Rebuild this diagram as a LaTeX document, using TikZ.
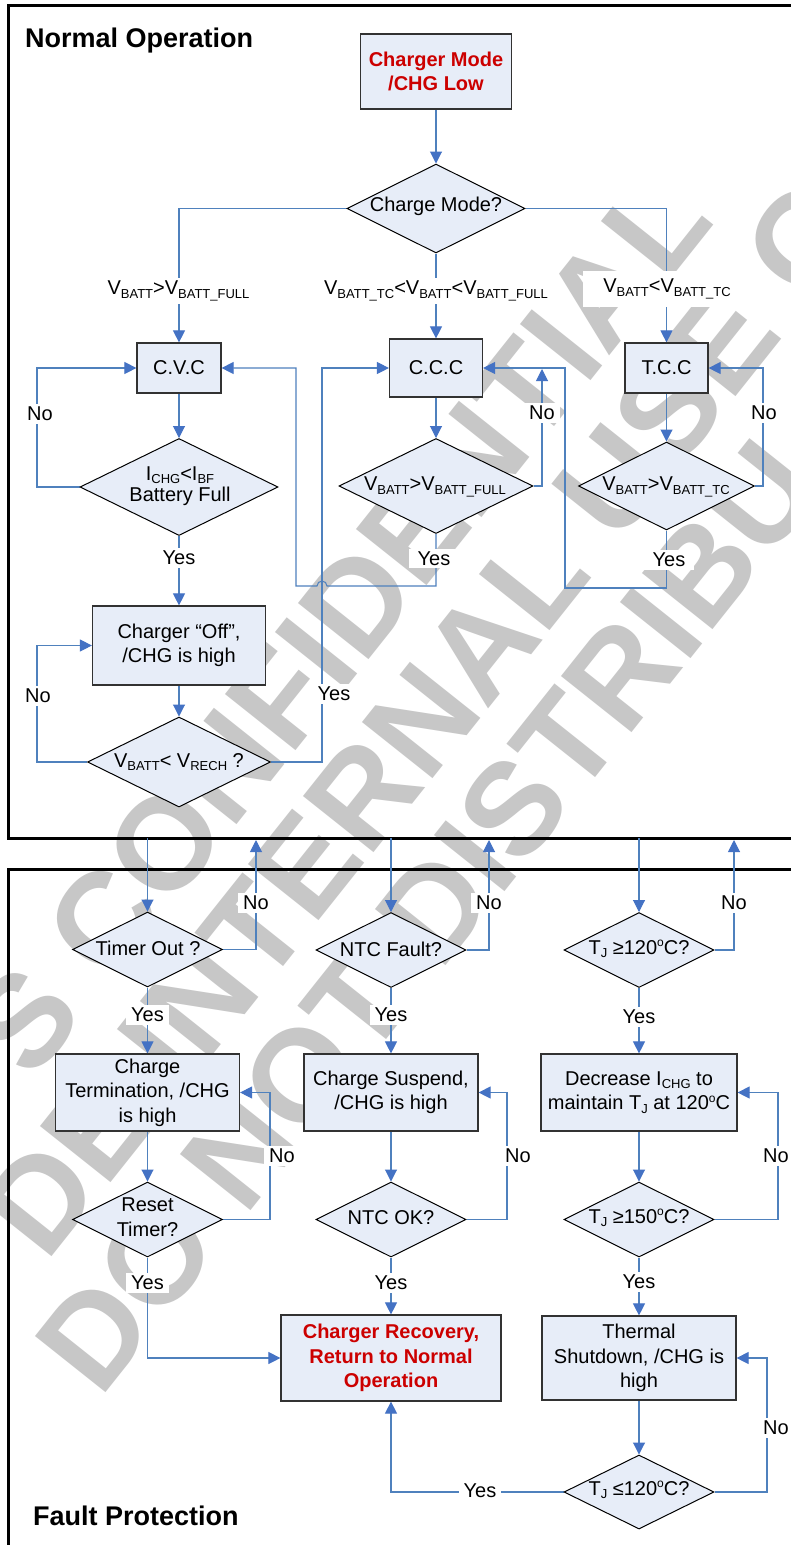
\documentclass[tikz,border=0pt]{standalone}
\usepackage{fontspec}
\setmainfont{Liberation Sans}
\usetikzlibrary{shapes.geometric,arrows.meta}
\definecolor{boxfill}{RGB}{231,237,248}
\definecolor{lnblue}{RGB}{79,129,189}
\definecolor{tipblue}{RGB}{68,114,196}
\definecolor{txtred}{RGB}{204,0,0}
\definecolor{wmgray}{RGB}{199,199,199}
\definecolor{boxline}{RGB}{50,50,50}
\newcommand{\mysb}[1]{\raisebox{-3.5pt}{\fontsize{13}{13}\selectfont #1}}
\newcommand{\mysp}[1]{\raisebox{7.5pt}{\fontsize{12}{12}\selectfont #1}}
\pgfdeclarelayer{wm}
\pgfdeclarelayer{lines}
\pgfsetlayers{wm,lines,main}
\begin{document}
\begin{tikzpicture}[x=1pt,y=-1pt,
  every node/.style={font=\fontsize{20}{24.5}\selectfont},
  box/.style={rectangle,draw=boxline,line width=1.2pt,fill=boxfill,inner sep=0pt,align=center},
  dia/.style={diamond,draw=black,line width=1pt,fill=boxfill,inner sep=0pt},
  dtext/.style={inner sep=0pt,align=center},
  lbl/.style={fill=white,inner xsep=5pt,inner ysep=3pt},
  conn/.style={draw=lnblue,line width=1.05pt,-{Triangle[length=12pt,width=12pt,color=tipblue,fill=tipblue]}},
  framestyle/.style={draw=black,line width=3pt},
  wmark/.style={text=wmgray,font=\fontsize{131}{131}\selectfont\bfseries,inner sep=0pt,anchor=west,rotate=51.5},
  ttl/.style={font=\fontsize{27}{30}\selectfont\bfseries,inner sep=0pt,anchor=base west},
  redtext/.style={text=txtred,font=\fontsize{20}{24.5}\selectfont\bfseries}
]
\useasboundingbox (0,0) rectangle (790,1545);

% ---------- watermark ----------
\begin{pgfonlayer}{wm}
\begin{scope}
\clip (0,0) rectangle (790,1545);
\fill[white] (0,0) rectangle (790,1545);
\node[wmark] (wm1) at (-3.0,1054.3) {S CONFIDENTIAL};
\node[wmark] (wm2) at (11.3,1235.6) {DE INTERNAL USE O};
\node[wmark] (wm3) at (65.3,1371.8) {DO NOT DISTRIBU};
\end{scope}
\end{pgfonlayer}

% ---------- titles ----------
\node[ttl] (tNormal) at (25,47) {Normal Operation};
\node[ttl] (tFault) at (33,1525) {Fault Protection};

% ---------- normal operation nodes ----------
\node[box,redtext,minimum width=151,minimum height=75] (cm) at (436,71.5) {Charger Mode\\/CHG Low};
\node[dia,minimum width=178,minimum height=89] (d1) at (436,208.5) {};
\node[dtext] (d1t) at (436,206) {Charge Mode?};
\node[box,minimum width=84,minimum height=50] (cvc) at (179,368) {C.V.C};
\node[box,minimum width=93,minimum height=58] (ccc) at (436,368) {C.C.C};
\node[box,minimum width=83,minimum height=50] (tcc) at (666.5,368) {T.C.C};
\node[dia,minimum width=198,minimum height=97] (d2) at (179,487) {};
\node[dtext,font=\fontsize{20}{21}\selectfont] (d2t) at (180,486) {I\mysb{CHG}<I\mysb{BF}\\Battery Full};
\node[dia,minimum width=194,minimum height=95] (d4) at (436,486) {};
\node[dtext] (d4t) at (435,487) {V\mysb{BATT}>V\mysb{BATT\_FULL}};
\node[dia,minimum width=176,minimum height=88] (d5) at (666.5,486) {};
\node[dtext] (d5t) at (666,487) {V\mysb{BATT}>V\mysb{BATT\_TC}};
\node[box,minimum width=173,minimum height=79] (cof) at (179,645.5) {Charger “Off”,\\/CHG is high};
\node[dia,minimum width=183,minimum height=90] (d3) at (179,762) {};
\node[dtext] (d3t) at (179,762) {V\mysb{BATT}< V\mysb{RECH} ?};
\coordinate (j1) at (542,369);

% ---------- fault protection nodes ----------
\node[dia,minimum width=150,minimum height=75] (to) at (147.5,949.5) {};
\node[dtext] (tot) at (148,948) {Timer Out ?};
\node[dia,minimum width=150,minimum height=75] (nf) at (391,950) {};
\node[dtext] (nft) at (391,949) {NTC Fault?};
\node[dia,minimum width=150,minimum height=75] (tj1) at (639,950) {};
\node[dtext] (tj1t) at (639,949) {T\mysb{J} ≥120\mysp{o}C?};
\node[box,minimum width=184,minimum height=77] (ct) at (147.5,1092.5) {Charge\\Termination, /CHG\\is high};
\node[box,minimum width=174,minimum height=77] (cs) at (391,1092.5) {Charge Suspend,\\/CHG is high};
\node[box,minimum width=196,minimum height=77] (dec) at (639,1092.5) {Decrease I\mysb{CHG} to\\maintain T\mysb{J} at 120\mysp{o}C};
\node[dia,minimum width=150,minimum height=75] (rt) at (147.5,1219.5) {};
\node[dtext] (rtt) at (147.5,1217) {Reset\\Timer?};
\node[dia,minimum width=150,minimum height=75] (ok) at (391,1219.5) {};
\node[dtext] (okt) at (391,1218) {NTC OK?};
\node[dia,minimum width=150,minimum height=75] (tj2) at (639,1219.5) {};
\node[dtext] (tj2t) at (639,1218) {T\mysb{J} ≥150\mysp{o}C?};
\node[box,redtext,minimum width=220,minimum height=86] (cr) at (391,1358) {Charger Recovery,\\Return to Normal\\Operation};
\node[box,minimum width=194,minimum height=84] (ts) at (639,1358) {Thermal\\Shutdown, /CHG is\\high};
\node[dia,minimum width=150,minimum height=74] (tj3) at (639,1492) {};
\node[dtext] (tj3t) at (639,1490) {T\mysb{J} ≤120\mysp{o}C?};

\coordinate (t1) at (147.5,838);
\coordinate (n1) at (256,840);
\coordinate (t2) at (391,838);
\coordinate (n2) at (489,840);
\coordinate (t3) at (639,838);
\coordinate (n3) at (734,840);

% ---------- connectors ----------
\begin{pgfonlayer}{lines}
\draw[framestyle] (800,5) -- (8,5) -- (8,838) -- (800,838);
\draw[framestyle] (800,869) -- (8,869) -- (8,1560);
\draw[conn] (cm.south) -- (d1.north);
\draw[conn] (d1.west) -| (cvc.north);
\draw[conn] (d1.south) -- (ccc.north);
\draw[conn] (d1.east) -| (tcc.north);
\draw[conn] (cvc.south) -- (d2.north);
\draw[conn] (d2.west) -- (37,487) |- (cvc.west);
\draw[conn] (d2.south) -- (cof.north);
\draw[conn] (cof.south) -- (d3.north);
\draw[conn] (d3.west) -- (37,762) |- (cof.west);
\draw[conn] (d3.east) -- (322,762) |- (ccc.west);
\draw[conn] (ccc.south) -- (d4.north);
\draw[conn] (d4.east) -- (542,486) -- (j1);
\draw[conn] (d4.south) -- (436,586) -- (327,586) arc[start angle=0,end angle=-180,radius=5] -- (296,586) |- (cvc.east);
\draw[conn] (tcc.south) -- (d5.north);
\draw[conn] (d5.east) -- (763,486) |- (tcc.east);
\draw[conn] (d5.south) -- (666.5,588) -- (565,588) |- (ccc.east);
\draw[conn] (t1) -- (to.north);
\draw[conn] (to.east) -- (256,949.5) -- (n1);
\draw[conn] (t2) -- (nf.north);
\draw[conn] (nf.east) -- (489,950) -- (n2);
\draw[conn] (t3) -- (tj1.north);
\draw[conn] (tj1.east) -- (734,950) -- (n3);
\draw[conn] (to.south) -- (ct.north);
\draw[conn] (nf.south) -- (cs.north);
\draw[conn] (tj1.south) -- (dec.north);
\draw[conn] (ct.south) -- (rt.north);
\draw[conn] (rt.east) -- (270,1219.5) |- (ct.east);
\draw[conn] (cs.south) -- (ok.north);
\draw[conn] (ok.east) -- (507,1219.5) |- (cs.east);
\draw[conn] (dec.south) -- (tj2.north);
\draw[conn] (tj2.east) -- (778,1219.5) |- (dec.east);
\draw[conn] (rt.south) |- (cr.west);
\draw[conn] (ok.south) -- (cr.north);
\draw[conn] (tj2.south) -- (ts.north);
\draw[conn] (ts.south) -- (tj3.north);
\draw[conn] (tj3.east) -- (767,1492) |- (ts.east);
\draw[conn] (tj3.west) -| (cr.south);
\end{pgfonlayer}

% ---------- labels ----------
\node[lbl] (lA) at (178.5,291) {V\mysb{BATT}>V\mysb{BATT\_FULL}};
\node[lbl] (lB) at (436,291) {V\mysb{BATT\_TC}<V\mysb{BATT}<V\mysb{BATT\_FULL}};
\node[lbl,inner xsep=20pt,inner ysep=8pt] (lC) at (667,289) {V\mysb{BATT}<V\mysb{BATT\_TC}};
\node[lbl] (lNo1) at (40,414) {No};
\node[lbl] (lYes1) at (179,558) {Yes};
\node[lbl,inner xsep=9pt] (lYes2) at (434,558.5) {Yes};
\node[lbl] (lNo2) at (542,413) {No};
\node[lbl,inner xsep=9pt] (lYes3) at (669,560) {Yes};
\node[lbl] (lNo3) at (764,413) {No};
\node[lbl] (lNo4) at (38,696) {No};
\node[lbl] (lYes4) at (334,694) {Yes};
\node[lbl] (lNo5) at (256,903) {No};
\node[lbl] (lNo6) at (489,903) {No};
\node[lbl] (lNo7) at (734,903) {No};
\node[lbl] (lYes5) at (147.5,1015) {Yes};
\node[lbl] (lYes6) at (391,1015) {Yes};
\node[lbl] (lYes7) at (639,1017) {Yes};
\node[lbl] (lNo8) at (282,1156) {No};
\node[lbl] (lNo9) at (518,1156) {No};
\node[lbl] (lNo10) at (776,1156) {No};
\node[lbl] (lYes8) at (147.5,1283) {Yes};
\node[lbl] (lYes9) at (391,1283) {Yes};
\node[lbl] (lYes10) at (639,1282) {Yes};
\node[lbl] (lNo11) at (776,1428) {No};
\node[lbl] (lYes11) at (480,1491) {Yes};
\end{tikzpicture}
\end{document}
